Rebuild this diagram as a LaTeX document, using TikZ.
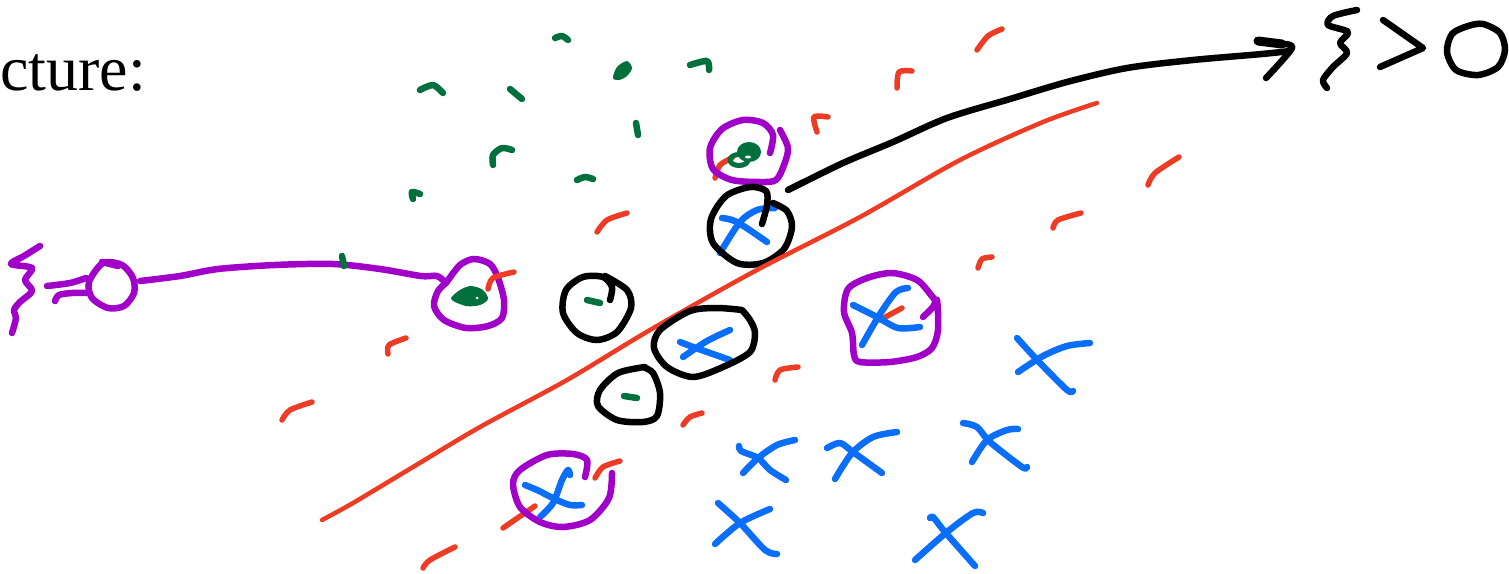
\documentclass[tikz,border=0pt]{standalone}
\usepackage{fontspec}
\setmainfont{Liberation Serif}
\definecolor{pur}{HTML}{A000C8}
\definecolor{grn}{HTML}{00703C}
\definecolor{rd}{HTML}{EE3B24}
\definecolor{bl}{HTML}{0A6EF8}
\tikzset{
  pen/.style={line width=6.5pt, line cap=round, line join=round},
  pp/.style={pen, pur},
  gp/.style={pen, grn},
  rp/.style={pen, rd, line width=5.5pt},
  bp/.style={pen, bl},
  kp/.style={pen, black},
}
\begin{document}
\begin{tikzpicture}[x=1pt,y=-1pt]
\useasboundingbox (0,0) rectangle (1509,573);
% title text
\node[anchor=base west, inner sep=0pt, font=\fontsize{64}{70}\selectfont] (title) at (0,90) {cture:};

% ---- left purple squiggle and circle
\draw[pp] plot[smooth] coordinates {(40,246) (24,256) (11,264) (32,268) (25,280) (32,291) (20,302) (14,310) (16,318) (12,333)};
\draw[pp] plot[smooth] coordinates {(47,286) (70,283) (86,278)};
\draw[pp] plot[smooth] coordinates {(55,301) (59,295) (72,293) (86,293)};
\draw[pp] plot[smooth cycle] coordinates {(103,263) (122,265) (133,278) (134,293) (124,306) (108,308) (92,298) (89,282)};
\draw[pp] (102,262) -- (118,266);
\draw[pp] plot[smooth] coordinates {(140,281) (180,276) (218,269) (275,265) (333,264) (380,269) (421,276) (437,276) (446,283)};
\draw[pp] plot[smooth] coordinates {(446,283) (460,265) (474,259) (490,264) (498,278) (504,300) (502,318) (488,326) (466,328) (444,320) (434,306) (438,291) (446,283)};
\draw[gp] (342,256) -- (344,266);
\fill[grn] plot[smooth cycle] coordinates {(451,299) (460,290) (471,286) (483,290) (488,299) (480,305) (466,306)};
\fill[white] (477,298) circle (1.5pt);
\draw[rp] plot[smooth] coordinates {(488,289) (493,278) (514,272)};
\draw[rp] plot[smooth] coordinates {(388,354) (389,345) (406,338)};

% ---- green marks
\draw[gp] plot[smooth] coordinates {(555,38) (562,36) (568,40)};
\draw[gp] plot[smooth] coordinates {(420,90) (433,85) (443,93)};
\draw[gp] (510,89) -- (522,99);
\fill[grn] plot[smooth cycle] coordinates {(613,78) (617,67) (627,61) (632,68) (627,76) (619,80)};
\draw[gp] plot[smooth] coordinates {(690,65) (707,61) (709,70)};
\draw[gp] (636,123) -- (638,135);
\draw[gp] plot[smooth] coordinates {(493,165) (493,155) (502,148) (512,150)};
\draw[gp] plot[smooth] coordinates {(577,180) (585,177) (593,179)};
\draw[gp] plot[smooth] coordinates {(413,199) (412,192) (420,194)};

% ---- top purple circle with green blob
\draw[rp] plot[smooth] coordinates {(715,178) (720,165) (732,158)};
\draw[pp] plot[smooth] coordinates {(770,153) (773,135) (763,123) (743,120) (722,129) (710,148) (713,169) (732,180) (760,182) (776,180) (784,165) (788,148) (780,130)};
\fill[grn] (749,152) ellipse (12pt and 10pt);
\draw[gp, line width=5pt] (739,160) ellipse (9pt and 5.5pt);
\fill[white] (748,157) ellipse (3pt and 1.5pt);

% ---- black circle with blue x (top)
\draw[bp] plot[smooth] coordinates {(722,218) (737,222) (767,242)};
\draw[bp] plot[smooth] coordinates {(720,253) (740,222) (757,210) (775,208)};
\draw[kp] plot[smooth] coordinates {(762,224) (767,205) (766,191) (750,187) (726,196) (711,219) (713,243) (737,263) (763,263) (784,249) (792,227) (787,211) (773,203)};

% ---- black circle with green dash (left)
\draw[gp] (587,300) -- (600,303);
\draw[kp] plot[smooth] coordinates {(610,300) (612,287) (603,277) (583,277) (566,290) (563,313) (577,333) (597,340) (617,332) (631,308) (627,290) (605,276)};

% ---- red separating line
\draw[rp, line width=4.5pt] plot[smooth] coordinates {(322,520) (353,503) (413,467) (480,427) (567,380) (650,330) (755,271) (860,217) (960,160) (1043,122) (1097,103)};

% ---- black ellipse with blue x (middle)
\draw[bp] plot[smooth] coordinates {(680,342) (693,347) (730,360)};
\draw[bp] plot[smooth] coordinates {(683,357) (707,341) (730,330)};
\draw[kp] plot[smooth] coordinates {(742,310) (750,320) (755,333) (750,352) (723,367) (693,377) (667,367) (654,348) (660,330) (690,311) (717,308) (742,310)};

% ---- black triangle-ish circle (bottom)
\draw[gp] (624,396) -- (637,398);
\draw[kp] plot[smooth] coordinates {(643,367) (653,373) (660,393) (657,416) (643,422) (617,420) (598,406) (600,390) (618,373) (645,367)};

% ---- black arrow with xi > 0
\draw[kp] plot[smooth] coordinates {(788,190) (843,163) (893,142) (947,118) (1010,99) (1067,82) (1127,68) (1193,60) (1262,54) (1290,51)};
\draw[kp, line width=9pt] (1258,41) -- (1282,44);
\draw[kp] plot[smooth] coordinates {(1280,44) (1292,48) (1266,78)};
\draw[kp] plot[smooth] coordinates {(1357,10) (1333,16) (1328,25) (1348,32) (1340,43) (1347,53) (1333,67) (1323,80) (1327,88)};
\draw[kp] (1383,20) -- (1423,48) -- (1380,67);
\draw[kp] plot[smooth cycle] coordinates {(1483,24) (1500,33) (1505,50) (1498,67) (1478,75) (1456,70) (1447,52) (1452,34) (1468,26)};

% ---- right purple circle with blue x
\draw[rp] (880,320) -- (902,308);
\draw[bp] plot[smooth] coordinates {(853,305) (877,317) (898,328) (920,327)};
\draw[bp] plot[smooth] coordinates {(862,345) (880,314) (896,292) (908,288)};
\draw[pp] plot[smooth] coordinates {(923,317) (933,307) (937,300) (938,330) (932,348) (917,357) (890,362) (860,362) (854,355) (852,333) (844,312) (848,289) (867,278) (892,273) (917,280) (931,295) (937,303)};

% ---- bottom purple circle with blue x
\draw[rp] (503,528) -- (535,506);
\draw[rp] plot[smooth] coordinates {(595,478) (603,467) (620,461)};
\draw[bp] plot[smooth] coordinates {(525,485) (537,490) (557,500) (570,505) (582,505)};
\draw[bp] plot[smooth] coordinates {(540,517) (553,503) (562,480) (568,470) (570,475)};
\draw[pp] plot[smooth] coordinates {(585,477) (587,460) (573,454) (547,455) (520,470) (513,484) (520,507) (540,522) (563,527) (590,520) (609,498) (612,473)};

% ---- scattered red marks
\draw[rp] plot[smooth] coordinates {(977,50) (988,36) (1002,29)};
\draw[rp] plot[smooth] coordinates {(897,88) (899,72) (912,71)};
\draw[rp] plot[smooth] coordinates {(817,132) (814,117) (828,117)};
\draw[rp] plot[smooth] coordinates {(1148,185) (1155,173) (1179,157)};
\draw[rp] plot[smooth] coordinates {(1053,228) (1058,220) (1081,213)};
\draw[rp] plot[smooth] coordinates {(978,268) (982,259) (992,257)};
\draw[rp] plot[smooth] coordinates {(597,232) (607,220) (627,213)};
\draw[rp] plot[smooth] coordinates {(775,380) (780,370) (798,367)};
\draw[rp] plot[smooth] coordinates {(683,425) (690,417) (702,413)};
\draw[rp] plot[smooth] coordinates {(282,420) (290,410) (312,402)};
\draw[rp] plot[smooth] coordinates {(423,568) (430,560) (455,547)};

% ---- blue crosses
\draw[bp] plot[smooth] coordinates {(1017,338) (1040,363) (1067,390) (1073,391)};
\draw[bp] plot[smooth] coordinates {(1018,372) (1043,356) (1067,346) (1090,343)};
\draw[bp] plot[smooth] coordinates {(739,446) (741,451) (758,458) (770,470) (786,480)};
\draw[bp] plot[smooth] coordinates {(743,473) (758,458) (777,445) (795,440)};
\draw[bp] plot[smooth] coordinates {(827,448) (840,443) (853,452) (882,473)};
\draw[bp] plot[smooth] coordinates {(835,479) (852,453) (873,437) (897,432)};
\draw[bp] plot[smooth] coordinates {(963,423) (977,427) (990,442) (1022,467) (1027,467)};
\draw[bp] plot[smooth] coordinates {(972,462) (987,440) (1007,430) (1018,429)};
\draw[bp] plot[smooth] coordinates {(718,503) (740,523) (765,550) (777,554)};
\draw[bp] plot[smooth] coordinates {(715,544) (740,523) (770,509)};
\draw[bp] plot[smooth] coordinates {(930,518) (933,517) (945,532) (975,566)};
\draw[bp] plot[smooth] coordinates {(915,560) (947,532) (973,513) (983,513)};
\end{tikzpicture}
\end{document}
